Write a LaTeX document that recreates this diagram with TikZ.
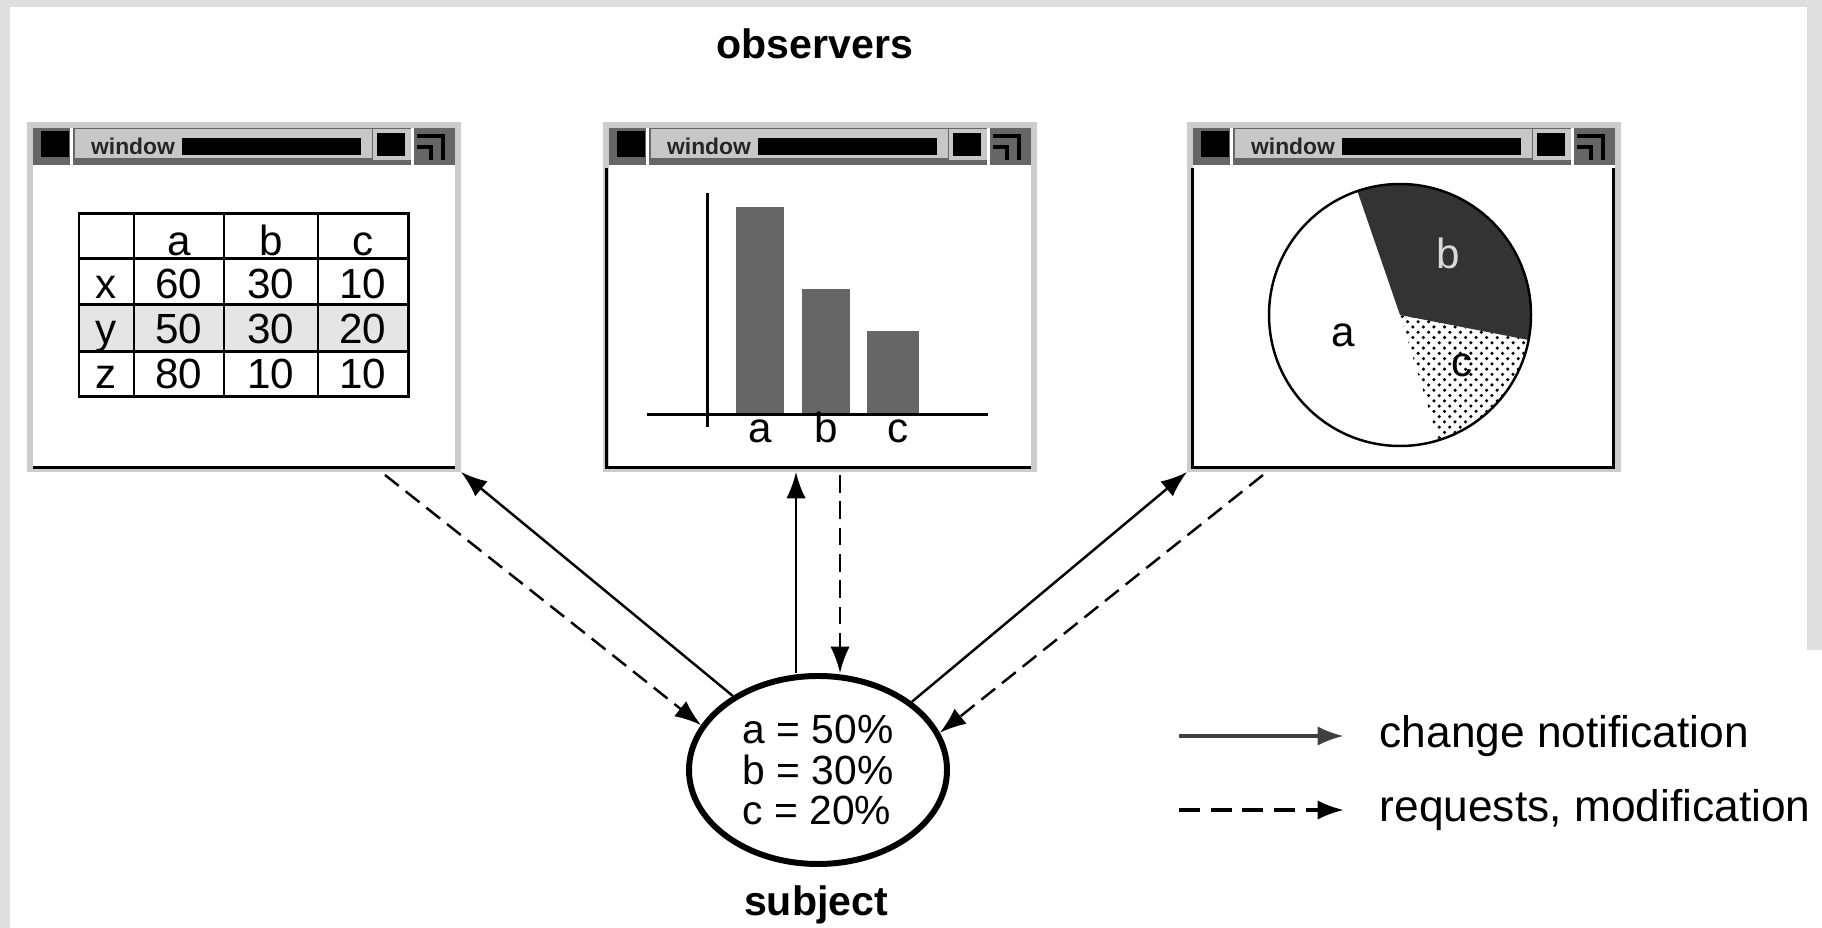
\documentclass[tikz,border=0pt]{standalone}
\usepackage{fontspec}
\setmainfont{Liberation Sans}
\usetikzlibrary{arrows.meta,calc,patterns,shapes.geometric}

\definecolor{framegray}{HTML}{CCCCCC}
\definecolor{bargray}{HTML}{666666}
\definecolor{edgegray}{HTML}{DEDEDE}

\tikzset{
  winframe/.style={draw=framegray, line width=1.7pt, fill=white, minimum width=4.28cm, minimum height=3.44cm, inner sep=0pt},
  wintitle/.style={font=\fontsize{6.5}{7}\selectfont\bfseries, text=black!85, inner sep=0pt},
  winedge/.style={line width=0.85pt},
  cell/.style={anchor=base, inner sep=0pt, font=\fontsize{12}{12}\selectfont},
  notify/.style={line width=0.7pt, -{Latex[length=7.5pt,width=5.5pt]}},
  request/.style={notify, dash pattern=on 5pt off 2.5pt},
  subject/.style={ellipse, draw, line width=1.7pt, minimum width=2.58cm, minimum height=1.88cm, inner sep=0pt, align=left, font=\fontsize{11.6}{11.5}\selectfont},
  caption/.style={font=\fontsize{11.7}{12}\selectfont\bfseries},
  legendtext/.style={anchor=west, inner sep=0pt, font=\fontsize{12.6}{13}\selectfont}
}

% one observer window with its title bar, #1 = node name, #2 = left edge
\newcommand{\obswindow}[2]{%
  \begin{scope}[xshift=#2cm]
    \node[winframe] (#1) at (2.17,2.97) {};
    \fill[black!60] (0.06,1.28) rectangle (4.28,1.65); % title strip
    \fill (0.14,1.31) rectangle (0.42,1.57);
    \fill[white] (0.43,1.28) rectangle (0.46,1.65);
    \fill[black!22] (0.48,1.29) rectangle (3.45,1.58);
    \node[wintitle] (#1-title) at (1.06,1.46) {window};
    \fill (1.55,1.38) rectangle (3.34,1.55);
    \fill[black!22] (3.46,1.29) rectangle (3.84,1.60);
    \fill (3.50,1.33) rectangle (3.78,1.56);
    \fill[white] (3.84,1.28) rectangle (3.87,1.65);
    \draw[line width=1.1pt] (3.90,1.36) -- (4.16,1.36) -- (4.16,1.60); % resize corner
    \draw[line width=1.1pt] (3.90,1.47) -- (4.04,1.47) -- (4.04,1.60);
  \end{scope}}

\begin{document}
\begin{tikzpicture}[y=-1cm]
  \useasboundingbox (0,0) rectangle (18.22,9.28);
  \fill[edgegray] (0,0) rectangle (18.22,0.07); % grey margin
  \fill[edgegray] (0,0) rectangle (0.10,9.28);
  \fill[edgegray] (18.07,0) rectangle (18.22,6.5);

  \node[caption] (obs) at (8.15,0.44) {observers};

  \obswindow{tablewin}{0.27}
  \obswindow{barwin}{6.03}
  \obswindow{piewin}{11.87}
  \draw[winedge] (0.33,4.675) -- (4.55,4.675);
  \draw[winedge] (6.065,1.68) -- (6.065,4.675) -- (10.31,4.675);
  \draw[winedge] (11.92,1.68) -- (11.92,4.675) -- (16.13,4.675) -- (16.13,1.68);

  % table view
  \fill[black!10] (0.79,3.05) rectangle (4.08,3.52); % row y
  \draw[winedge] (0.79,2.14) rectangle (4.08,3.97);
  \draw[winedge] (1.34,2.14) -- (1.34,3.97) (2.24,2.14) -- (2.24,3.97) (3.18,2.14) -- (3.18,3.97);
  \draw[winedge] (0.79,2.59) -- (4.08,2.59) (0.79,3.05) -- (4.08,3.05) (0.79,3.52) -- (4.08,3.52);
  \node[cell] (ha) at (1.79,2.56) {a};
  \node[cell] (hb) at (2.71,2.56) {b};
  \node[cell] (hc) at (3.63,2.56) {c};
  \node[cell] (rx) at (1.065,2.99) {x};
  \node[cell] (xa) at (1.79,2.99) {60};
  \node[cell] (xb) at (2.71,2.99) {30};
  \node[cell] (xc) at (3.63,2.99) {10};
  \node[cell] (ry) at (1.065,3.44) {y};
  \node[cell] (ya) at (1.79,3.44) {50};
  \node[cell] (yb) at (2.71,3.44) {30};
  \node[cell] (yc) at (3.63,3.44) {20};
  \node[cell] (rz) at (1.065,3.89) {z};
  \node[cell] (za) at (1.79,3.89) {80};
  \node[cell] (zb) at (2.71,3.89) {10};
  \node[cell] (zc) at (3.63,3.89) {10};

  % bar chart view
  \fill[bargray] (7.36,2.07) rectangle (7.84,4.13);
  \fill[bargray] (8.02,2.89) rectangle (8.50,4.13);
  \fill[bargray] (8.67,3.31) rectangle (9.19,4.13);
  \draw[winedge] (7.07,1.93) -- (7.07,4.27);
  \draw[winedge] (6.47,4.15) -- (9.88,4.15);
  \node[cell] (bara) at (7.60,4.43) {a};
  \node[cell] (barb) at (8.26,4.43) {b};
  \node[cell] (barc) at (8.98,4.43) {c};

  % pie chart view
  \coordinate (piec) at (14.00,3.15);
  \fill[white] (piec) circle (1.31);
  \fill[black!80] (piec) -- ++(-109:1.31) arc[start angle=-109, end angle=11, radius=1.31] -- cycle;
  \fill[pattern=crosshatch dots] (piec) -- ++(11:1.31) arc[start angle=11, end angle=73, radius=1.31] -- cycle;
  \draw[line width=0.7pt] (piec) circle (1.31);
  \node[cell, anchor=center] (piea) at (13.43,3.35) {a};
  \node[cell, anchor=center, text=black!15] (pieb) at (14.48,2.53) {b};
  \node[cell, anchor=center] (piecl) at (14.62,3.65) {c};

  % subject
  \node[subject] (subj) at (8.18,7.70) {a = 50\%\\b = 30\%\\c = 20\%};
  \node[caption] (subjname) at (8.16,9.05) {subject};

  \coordinate (tableout) at ($(tablewin.south)+(1.41,0.03)$);
  \coordinate (barin) at ($(barwin.south)+(-0.24,0)$);
  \coordinate (barout) at ($(barwin.south)+(0.20,0.03)$);
  \coordinate (pieout) at ($(piewin.south)+(-1.41,0.03)$);

  \draw[notify] (subj.139) -- (tablewin.south east);
  \draw[request] (tableout) -- (subj.159);
  \draw[notify] (barin |- subj.north) -- (barin);
  \draw[request] (barout) -- (barout |- subj.north);
  \draw[notify] (subj.36) -- (piewin.south west);
  \draw[request] (pieout) -- (subj.17);

  % legend
  \coordinate (keyA) at (11.79,7.36);
  \coordinate (keyB) at (13.44,7.36);
  \coordinate (keyC) at (11.79,8.10);
  \coordinate (keyD) at (13.44,8.10);
  \draw[notify, line width=1.1pt, black!75] (keyA) -- (keyB);
  \draw[request, line width=1pt, dash pattern=on 6pt off 3pt] (keyC) -- (keyD);
  \node[legendtext] (changetext) at (13.79,7.36) {change notification};
  \node[legendtext] (requesttext) at (13.79,8.10) {requests, modification};
\end{tikzpicture}
\end{document}
